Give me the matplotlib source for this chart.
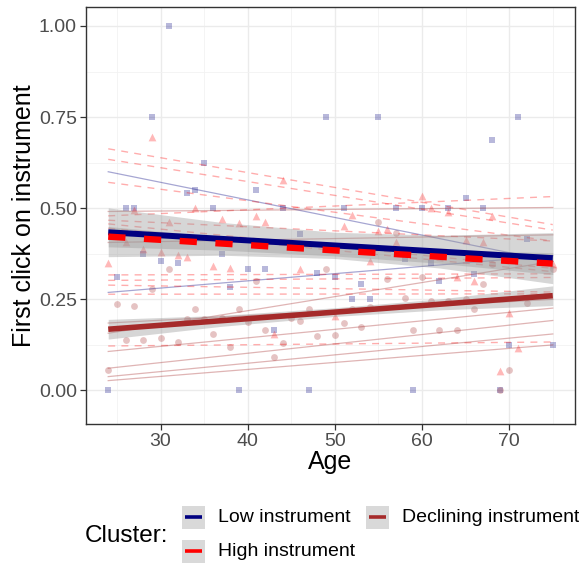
import numpy as np
import matplotlib
matplotlib.use("Agg")
import matplotlib.pyplot as plt
from matplotlib.patches import Rectangle
from matplotlib.lines import Line2D

plt.rcParams['font.family'] = ['Liberation Sans', 'DejaVu Sans']

W, H = 579, 563

# ---------------- data ----------------
# Low instrument (blue squares)
low_age = [31, 29, 35, 33, 34, 41, 26, 27, 36, 44, 49, 55, 71, 68, 65, 51, 57, 60, 63, 67,
           28, 30, 32, 25, 40, 42, 46, 37, 38, 48, 43, 24, 39, 47, 59, 69, 72, 58, 61, 50,
           62, 66, 53, 52, 54, 70, 75]
low_val = [1.00, 0.75, 0.625, 0.541, 0.55, 0.55, 0.5, 0.5, 0.5, 0.5, 0.75, 0.75, 0.75, 0.687,
           0.527, 0.5, 0.5, 0.5, 0.5, 0.5, 0.375, 0.356, 0.351, 0.3125, 0.333, 0.333, 0.429,
           0.375, 0.285, 0.322, 0.166, 0.0, 0.0, 0.0, 0.0, 0.0, 0.416, 0.361, 0.351, 0.3125,
           0.30, 0.32, 0.292, 0.25, 0.25, 0.125, 0.125]

# High instrument (red triangles)
high_age = [29, 44, 34, 41, 60, 52, 61, 63, 68, 27, 37, 39, 31, 42, 26, 28, 30, 32, 33, 24,
            36, 38, 46, 43, 51, 55, 56, 57, 65, 67, 75, 54, 64, 66, 70, 50, 71, 69]
high_val = [0.695, 0.578, 0.5, 0.479, 0.534, 0.482, 0.5, 0.49, 0.48, 0.495, 0.47, 0.46, 0.462,
            0.463, 0.407, 0.388, 0.381, 0.372, 0.367, 0.349, 0.342, 0.337, 0.333, 0.155, 0.451,
            0.438, 0.442, 0.406, 0.413, 0.406, 0.346, 0.356, 0.31, 0.30, 0.212, 0.203, 0.117,
            0.053]

# Declining instrument (brown circles)
decl_age = [31, 41, 29, 25, 27, 34, 39, 33, 35, 37, 40, 47, 46, 45, 36, 26, 28, 30, 32, 38,
            42, 44, 43, 48, 24, 55, 57, 68, 75, 49, 56, 60, 67, 58, 61, 63, 65, 72, 52, 54,
            66, 51, 53, 50, 59, 62, 64, 70, 69]
decl_val = [0.333, 0.30, 0.278, 0.237, 0.233, 0.223, 0.223, 0.196, 0.196, 0.20, 0.187, 0.223,
            0.19, 0.20, 0.155, 0.139, 0.139, 0.143, 0.133, 0.12, 0.166, 0.13, 0.093, 0.15,
            0.057, 0.463, 0.431, 0.348, 0.333, 0.333, 0.305, 0.31, 0.292, 0.253, 0.245, 0.245,
            0.25, 0.241, 0.223, 0.23, 0.223, 0.185, 0.175, 0.153, 0.166, 0.166, 0.166, 0.056,
            0.0]

# individual fitted lines (value at age 24, value at age 75)
ind_ages = [24, 75]
low_ind_start = [0.600, 0.269]
low_ind_end = [0.354, 0.370]
high_ind_start = [0.663, 0.634, 0.571, 0.479, 0.467, 0.457, 0.445, 0.317, 0.302, 0.289, 0.264, 0.122]
high_ind_end = [0.455, 0.440, 0.410, 0.532, 0.410, 0.335, 0.326, 0.320, 0.310, 0.270, 0.265, 0.133]
decl_ind_start = [0.491, 0.406, 0.157, 0.185, 0.107, 0.061, 0.038, 0.027]
decl_ind_end = [0.502, 0.427, 0.354, 0.250, 0.226, 0.192, 0.155, 0.125]

# cluster-level fits (values at ages 24 and 75)
fit_ages = [24, 75]
low_fit = [0.434, 0.363]
high_fit = [0.422, 0.348]
decl_fit = [0.168, 0.260]

# confidence ribbons
band_ages = [24, 37, 50, 62, 75]
low_lo = [0.367, 0.371, 0.362, 0.336, 0.293]
low_hi = [0.501, 0.461, 0.434, 0.426, 0.433]
high_lo = [0.394, 0.385, 0.369, 0.349, 0.318]
high_hi = [0.450, 0.421, 0.399, 0.385, 0.378]
decl_lo = [0.141, 0.176, 0.203, 0.221, 0.233]
decl_hi = [0.195, 0.206, 0.227, 0.251, 0.287]

legend_labels = ["Low instrument", "High instrument", "Declining instrument"]
x_ticks = [30, 40, 50, 60, 70]
y_ticks = [0.0, 0.25, 0.5, 0.75, 1.0]
y_ticklabels = ["0.00", "0.25", "0.50", "0.75", "1.00"]

# ---------------- style ----------------
C_LOW = "#000080"
C_HIGH = "#FF0000"
C_DECL = "#A52A2A"
RIB = "#999999"

fig = plt.figure(figsize=(W / 100, H / 100), dpi=100)
L, R, T, B = 86, 575, 7, 424
ax = fig.add_axes([L / W, 1 - B / H, (R - L) / W, (B - T) / H])

ax.set_xlim(21.45, 77.55)
ax.set_ylim(-0.092, 1.052)

# grid
ax.set_xticks(x_ticks)
ax.set_xticks([25, 35, 45, 55, 65, 75], minor=True)
ax.set_yticks(y_ticks)
ax.set_yticklabels(y_ticklabels)
ax.set_yticks([0.125, 0.375, 0.625, 0.875], minor=True)
ax.grid(which='major', color='#EBEBEB', lw=1.0, zorder=0)
ax.grid(which='minor', color='#F2F2F2', lw=0.6, zorder=0)
ax.set_axisbelow(True)
for s in ax.spines.values():
    s.set_color('#333333')
    s.set_linewidth(1.0)
ax.tick_params(which='major', length=4, width=0.9, color='#333333',
               labelsize=14, labelcolor='#4D4D4D', pad=2.5)
ax.tick_params(which='minor', length=0)

# points
ms = 24
ax.scatter(low_age, low_val, marker='s', s=ms, color=C_LOW, alpha=0.28, lw=0, zorder=2)
ax.scatter(high_age, high_val, marker='^', s=ms * 1.3, color=C_HIGH, alpha=0.28, lw=0, zorder=2)
ax.scatter(decl_age, decl_val, marker='o', s=ms, color=C_DECL, alpha=0.28, lw=0, zorder=2)

# individual lines
for a, b in zip(low_ind_start, low_ind_end):
    ax.plot(ind_ages, [a, b], color=C_LOW, alpha=0.35, lw=0.9, zorder=3)
for a, b in zip(high_ind_start, high_ind_end):
    ax.plot(ind_ages, [a, b], color=C_HIGH, alpha=0.32, lw=1.0, dashes=(5, 4.5), zorder=3)
for a, b in zip(decl_ind_start, decl_ind_end):
    ax.plot(ind_ages, [a, b], color=C_DECL, alpha=0.35, lw=0.9, zorder=3)

# ribbons
ax.fill_between(band_ages, low_lo, low_hi, color=RIB, alpha=0.4, lw=0, zorder=4)
ax.fill_between(band_ages, high_lo, high_hi, color=RIB, alpha=0.4, lw=0, zorder=4)
ax.fill_between(band_ages, decl_lo, decl_hi, color=RIB, alpha=0.4, lw=0, zorder=4)

# fitted lines
ax.plot(fit_ages, low_fit, color=C_LOW, lw=4.3, zorder=5, solid_capstyle='butt')
ax.plot(fit_ages, decl_fit, color=C_DECL, lw=4.0, zorder=5, solid_capstyle='butt')
ax.plot(fit_ages, high_fit, color=C_HIGH, lw=4.6, dashes=(2.7, 2.9), zorder=6,
        dash_capstyle='butt')

# axis titles
fig.text((L + R) / 2 / W, 1 - 462 / H, "Age", ha='center', va='center', fontsize=18)
fig.text(24 / W, 1 - (T + B) / 2 / H, "First click on instrument", ha='center',
         va='center', rotation=90, fontsize=18)

# legend (manual, ggplot style at bottom)
fig.text(127 / W, 1 - 536 / H, "Cluster:", ha='center', va='center', fontsize=17.5)
keys = [(182, 517, C_LOW, legend_labels[0]),
        (182, 551, C_HIGH, legend_labels[1]),
        (366, 517, C_DECL, legend_labels[2])]
ks = 23
for kx, ky, col, lab in keys:
    fig.add_artist(Rectangle((kx / W, 1 - (ky + ks / 2) / H), ks / W, ks / H,
                             transform=fig.transFigure, facecolor='#D9D9D9',
                             edgecolor='none'))
    ln = Line2D([(kx + 3) / W, (kx + ks - 3) / W], [1 - ky / H, 1 - ky / H],
                transform=fig.transFigure, color=col, lw=2.6, solid_capstyle='butt')
    fig.add_artist(ln)
    fig.text((kx + ks + 13) / W, 1 - ky / H, lab, ha='left', va='center', fontsize=14)

fig.savefig("out.png", dpi=100)
